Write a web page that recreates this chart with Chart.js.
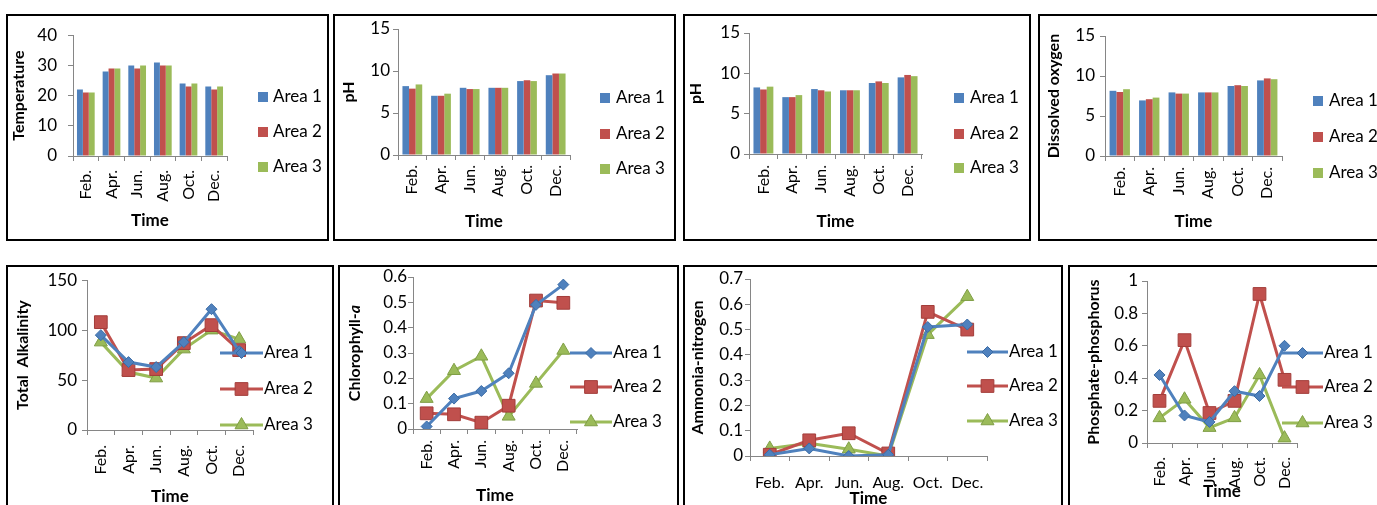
<!DOCTYPE html>
<html>
<head>
<meta charset="utf-8">
<script src="https://cdn.jsdelivr.net/npm/chart.js@4.4.1/dist/chart.umd.min.js"></script>
<style>
    html, body { margin: 0; padding: 0; background: #fff; overflow: hidden; width: 1377px; height: 505px; }
    .panel { position: absolute; border: 2px solid #000; box-sizing: border-box; pointer-events: none; }
    canvas { position: absolute; }
</style>
</head>
<body>
<script>
const months = ['Feb.', 'Apr.', 'Jun.', 'Aug.', 'Oct.', 'Dec.'];
const areas = ['Area 1', 'Area 2', 'Area 3'];

// Temperature
const tempA1 = [22, 28, 30, 31, 24, 23];
const tempA2 = [21, 29, 29, 30, 23, 22];
const tempA3 = [21, 29, 30, 30, 24, 23];

// pH (first panel)
const phA1 = [8.2, 7.05, 8.0, 8.0, 8.8, 9.5];
const phA2 = [7.9, 7.05, 7.85, 8.0, 8.9, 9.7];
const phA3 = [8.4, 7.3, 7.85, 8.0, 8.8, 9.7];

// pH (second panel)
const ph2A1 = [8.25, 7.05, 8.05, 7.9, 8.8, 9.5];
const ph2A2 = [8.0, 7.05, 7.9, 7.9, 9.0, 9.8];
const ph2A3 = [8.35, 7.3, 7.75, 7.9, 8.8, 9.65];

// Dissolved oxygen
const doA1 = [8.15, 6.95, 7.95, 7.95, 8.75, 9.45];
const doA2 = [8.0, 7.1, 7.8, 7.95, 8.85, 9.7];
const doA3 = [8.35, 7.3, 7.8, 7.95, 8.75, 9.6];

// Total alkalinity
const alkA1 = [95, 68, 63, 88, 121, 79];
const alkA2 = [108, 60, 61, 87, 105, 80];
const alkA3 = [88, 58, 52, 81, 100, 91];

// Chlorophyll-a
const chlA1 = [0.01, 0.12, 0.15, 0.22, 0.49, 0.57];
const chlA2 = [0.062, 0.058, 0.025, 0.092, 0.507, 0.498];
const chlA3 = [0.12, 0.23, 0.287, 0.05, 0.18, 0.31];

// Ammonia-nitrogen
const nhA1 = [0.005, 0.03, 0.0, 0.005, 0.51, 0.52];
const nhA2 = [0.005, 0.062, 0.09, 0.01, 0.57, 0.5];
const nhA3 = [0.03, 0.05, 0.027, 0.0, 0.48, 0.63];

// Phosphate-phosphorus
const poA1 = [0.42, 0.17, 0.13, 0.32, 0.29, 0.6];
const poA2 = [0.26, 0.635, 0.185, 0.26, 0.92, 0.39];
const poA3 = [0.155, 0.27, 0.095, 0.155, 0.42, 0.03];

const colors = ['#4F81BD', '#C0504D', '#9BBB59'];
const borders = ['#3A6BA5', '#A33D3A', '#7F9E45'];
const styles = ['rectRot', 'rect', 'triangle'];
const radii = [5.5, 9, 7.5];
const axisGray = '#868686';

Chart.defaults.font.family = 'Lato';
Chart.defaults.color = '#000';

// legend drawn like the Excel one (square for bars, line + marker for lines)
const areaLegend = {
    id: 'areaLegend',
    afterDraw(chart, args, o) {
        if (!o || !o.ys) return;
        const ctx = chart.ctx;
        ctx.save();
        chart.data.datasets.forEach((ds, i) => {
            const y = o.ys[i];
            if (o.kind === 'bar') {
                ctx.fillStyle = ds.backgroundColor;
                ctx.fillRect(o.x0, y - 5, 10, 10);
            } else {
                ctx.strokeStyle = ds.borderColor;
                ctx.lineWidth = 3;
                ctx.beginPath();
                ctx.moveTo(o.x0, y);
                ctx.lineTo(o.x1, y);
                ctx.stroke();
                ctx.fillStyle = ds.pointBackgroundColor;
                ctx.strokeStyle = ds.pointBorderColor;
                ctx.lineWidth = 1;
                Chart.helpers.drawPoint(ctx, {
                    pointStyle: ds.pointStyle, radius: ds.pointRadius, rotation: 0, borderWidth: 1
                }, (o.x0 + o.x1) / 2, y);
            }
            ctx.fillStyle = '#000';
            ctx.font = '17px Lato';
            ctx.textBaseline = 'middle';
            ctx.textAlign = 'left';
            ctx.fillText(ds.label, o.tx, y);
        });
        ctx.restore();
    }
};

// y title with mixed styles (Chlorophyll-a)
const partTitle = {
    id: 'partTitle',
    afterDraw(chart, args, o) {
        if (!o || !o.parts) return;
        const ctx = chart.ctx;
        ctx.save();
        ctx.translate(o.x, o.y);
        ctx.rotate(-Math.PI / 2);
        ctx.textBaseline = 'middle';
        ctx.fillStyle = '#000';
        let total = 0;
        o.parts.forEach(p => { ctx.font = p.font; total += ctx.measureText(p.text).width; });
        let x = -total / 2;
        o.parts.forEach(p => {
            ctx.font = p.font;
            ctx.fillText(p.text, x, 0);
            x += ctx.measureText(p.text).width;
        });
        ctx.restore();
    }
};

function build(p) {
    const cv = document.createElement('canvas');
    cv.width = p.box.w;
    cv.height = p.box.h;
    cv.style.left = p.box.x + 'px';
    cv.style.top = p.box.y + 'px';
    document.body.appendChild(cv);

    const frame = document.createElement('div');
    frame.className = 'panel';
    frame.style.left = p.box.x + 'px';
    frame.style.top = p.box.y + 'px';
    frame.style.width = p.box.w + 'px';
    frame.style.height = p.box.h + 'px';
    document.body.appendChild(frame);

    const a = p.area;
    const isBar = p.type === 'bar';
    const datasets = p.series.map((vals, i) => {
        const d = { label: areas[i], data: vals, backgroundColor: colors[i] };
        if (isBar) {
            d.borderWidth = 0;
            d.categoryPercentage = 0.69;
            d.barPercentage = 1;
        } else {
            d.borderColor = colors[i];
            d.borderWidth = 3;
            d.pointStyle = styles[i];
            d.pointRadius = radii[i];
            d.pointBackgroundColor = colors[i];
            d.pointBorderColor = borders[i];
            d.pointBorderWidth = 1;
            d.tension = 0;
        }
        return d;
    });

    new Chart(cv, {
        type: p.type,
        data: { labels: months, datasets: datasets },
        plugins: [areaLegend, partTitle],
        options: {
            responsive: false,
            animation: false,
            layout: { padding: { left: 0, top: a.t, right: p.box.w - a.r, bottom: 0 } },
            plugins: {
                legend: { display: false },
                tooltip: { enabled: false },
                areaLegend: p.legend,
                partTitle: p.partTitle || {}
            },
            scales: {
                x: {
                    offset: true,
                    grid: { offset: true, drawOnChartArea: false, color: axisGray, tickLength: 5 },
                    border: { color: axisGray },
                    ticks: { autoSkip: false, minRotation: p.rot, maxRotation: p.rot, padding: p.xpad, font: { size: 16 } },
                    title: { display: true, text: 'Time', font: { size: 17, weight: 'bold' }, padding: { top: 0, bottom: p.tpb } },
                    afterFit: s => { s.height = p.box.h - a.b; }
                },
                y: {
                    min: 0,
                    max: p.max,
                    ticks: {
                        stepSize: p.step, padding: p.ypad, font: { size: 17 },
                        callback: v => String(+v.toFixed(2))
                    },
                    grid: { drawOnChartArea: false, color: axisGray, tickLength: 5 },
                    border: { color: axisGray },
                    title: {
                        display: !!p.ytitle, text: p.ytitle || '',
                        font: { size: 16, weight: 'bold' }, padding: { top: p.tpt, bottom: 0 }
                    },
                    afterFit: s => { s.width = a.l; }
                }
            }
        }
    });
}

build({
    type: 'bar', box: { x: 6, y: 14, w: 323, h: 227 }, area: { l: 67, t: 12, r: 221, b: 142 },
    series: [tempA1, tempA2, tempA3], max: 40, step: 10, rot: 90, xpad: 9, ypad: 11, tpb: 10, tpt: 3,
    ytitle: 'Temperature', legend: { kind: 'bar', x0: 252, tx: 267, ys: [83, 118, 153] }
});
build({
    type: 'bar', box: { x: 333, y: 14, w: 343, h: 227 }, area: { l: 65, t: 15, r: 237, b: 141 },
    series: [phA1, phA2, phA3], max: 15, step: 5, rot: 90, xpad: 5, ypad: 3, tpb: 9, tpt: 6,
    ytitle: 'pH', legend: { kind: 'bar', x0: 267, tx: 283, ys: [84, 120, 155] }
});
build({
    type: 'bar', box: { x: 683, y: 14, w: 348, h: 227 }, area: { l: 66, t: 19, r: 239, b: 140 },
    series: [ph2A1, ph2A2, ph2A3], max: 15, step: 5, rot: 90, xpad: 6, ypad: 4, tpb: 9, tpt: 3,
    ytitle: 'pH', legend: { kind: 'bar', x0: 271, tx: 287, ys: [84, 120, 154] }
});
build({
    type: 'bar', box: { x: 1038, y: 14, w: 360, h: 227 }, area: { l: 67, t: 22, r: 244, b: 142 },
    series: [doA1, doA2, doA3], max: 15, step: 5, rot: 90, xpad: 6, ypad: 5, tpb: 9, tpt: 6,
    ytitle: 'Dissolved oxygen', legend: { kind: 'bar', x0: 275, tx: 291, ys: [87, 123, 159] }
});
build({
    type: 'line', box: { x: 6, y: 265, w: 328, h: 260 }, area: { l: 81, t: 14, r: 247, b: 165 },
    series: [alkA1, alkA2, alkA3], max: 150, step: 50, rot: 90, xpad: 10, ypad: 5, tpb: 18, tpt: 7,
    ytitle: 'Total  Alkalinity', legend: { kind: 'line', x0: 214, x1: 257, tx: 258, ys: [88, 124, 160] }
});
build({
    type: 'line', box: { x: 338, y: 265, w: 341, h: 260 }, area: { l: 75, t: 12, r: 239, b: 164 },
    series: [chlA1, chlA2, chlA3], max: 0.6, step: 0.1, rot: 90, xpad: 6, ypad: 1, tpb: 19, tpt: 0,
    ytitle: null, legend: { kind: 'line', x0: 232, x1: 274, tx: 275, ys: [88, 122, 157] },
    partTitle: { x: 17, y: 88, parts: [{ text: 'Chlorophyll-', font: 'bold 16px Lato' }, { text: 'a', font: 'italic bold 16px Lato' }] }
});
build({
    type: 'line', box: { x: 683, y: 265, w: 380, h: 260 }, area: { l: 67, t: 14, r: 304, b: 191 },
    series: [nhA1, nhA2, nhA3], max: 0.7, step: 0.1, rot: 0, xpad: 12, ypad: 2, tpb: 16, tpt: 5,
    ytitle: 'Ammonia-nitrogen', legend: { kind: 'line', x0: 284, x1: 325, tx: 326, ys: [87, 121, 156] }
});
build({
    type: 'line', box: { x: 1068, y: 265, w: 340, h: 260 }, area: { l: 79, t: 16, r: 229, b: 178 },
    series: [poA1, poA2, poA3], max: 1, step: 0.2, rot: 90, xpad: 9, ypad: 4, tpb: 23, tpt: 16,
    ytitle: 'Phosphate-phosphorus', legend: { kind: 'line', x0: 214, x1: 255, tx: 256, ys: [88, 122, 158] }
});
</script>
</body>
</html>
